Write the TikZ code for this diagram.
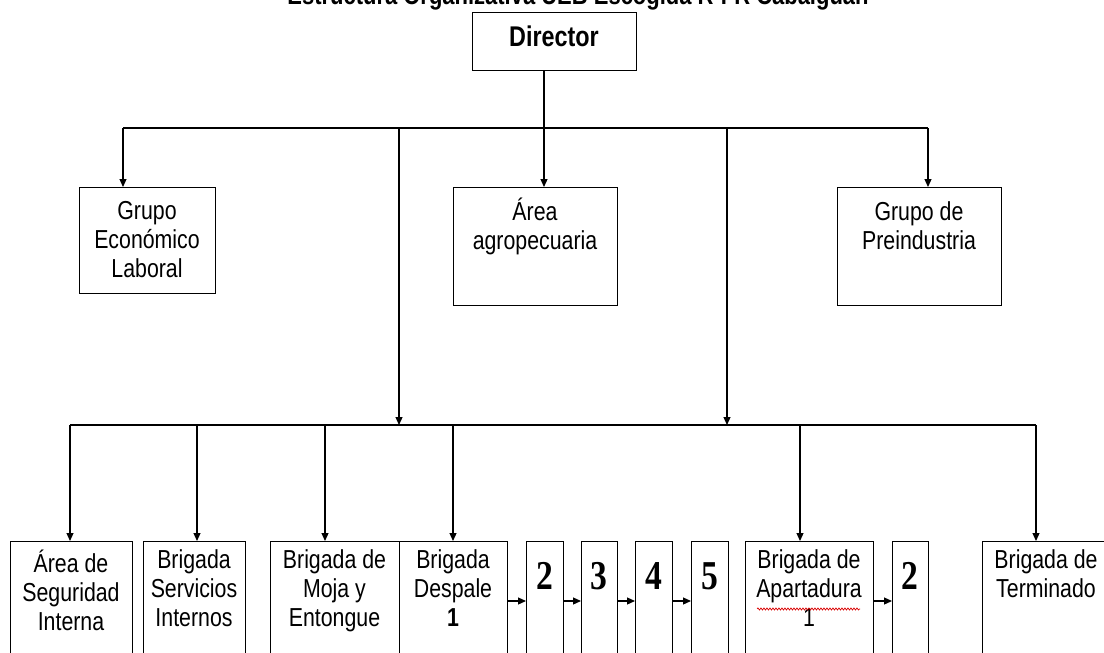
\documentclass[tikz,border=0pt]{standalone}
\usepackage{fontspec}
\setmainfont{Liberation Sans}[FakeStretch=0.82]
\newfontfamily\numfont{Liberation Serif}[FakeStretch=0.82]
\usetikzlibrary{arrows.meta,decorations.pathmorphing}

\newcommand\lblfont{\fontsize{26}{29}\selectfont}
\newcommand\dirfont{\fontsize{28.5}{32}\selectfont\bfseries}
\newcommand\titlefont{\fontsize{26.8}{30}\selectfont\bfseries}
\newcommand\numbersfont{\numfont\bfseries\fontsize{41}{44}\selectfont}

\begin{document}
\begin{tikzpicture}[x=1pt,y=-1pt,line width=1.2pt,
  box/.style={draw,rectangle,inner sep=0pt,anchor=north west},
  lbl/.style={anchor=north,inner sep=0pt,align=center,font=\lblfont,
    execute at begin node={\rule{0pt}{26pt}}},
  num/.style={anchor=base,inner sep=0pt,font=\numbersfont},
  arr/.style={-{Triangle[length=8pt,width=7pt]}}]

\useasboundingbox (0,0) rectangle (1104,653);
\clip (0,0) rectangle (1104,653);

% title
\node[anchor=base,inner sep=0pt,font=\titlefont] (title) at (578,5)
  {Estructura Organizativa UEB Escogida R-I-R Cabaiguán};

% director
\node[box,minimum width=164pt,minimum height=58pt] (dir) at (472,12) {};
\node[anchor=base,inner sep=0pt,font=\dirfont] (dirt) at (554,46) {Director};

% second level
\node[box,minimum width=136pt,minimum height=106pt] (ge) at (79,187) {};
\node[lbl] (get) at (147,201) {Grupo\\Económico\\Laboral};
\node[box,minimum width=164pt,minimum height=118pt] (aa) at (453,187) {};
\node[lbl] (aat) at (535,197) {Área\\agropecuaria};
\node[box,minimum width=164pt,minimum height=118pt] (gp) at (837,187) {};
\node[lbl] (gpt) at (919,201) {Grupo de\\Preindustria};

% brigades
\node[box,minimum width=122pt,minimum height=140pt] (asi) at (10,541) {};
\node[lbl] (asit) at (71,549) {Área de\\Seguridad\\Interna};
\node[box,minimum width=102pt,minimum height=140pt] (bsi) at (143,541) {};
\node[lbl] (bsit) at (194,549) {Brigada\\Servicios\\Internos};
\node[box,minimum width=129pt,minimum height=140pt] (bmo) at (270,541) {};
\node[lbl] (bmot) at (334.5,549) {Brigada de\\Moja y\\Entongue};
\node[box,minimum width=108pt,minimum height=140pt] (bde) at (399,541) {};
\node[lbl] (bdet) at (453,549) {Brigada\\Despale\\\textbf{1}};
\node[box,minimum width=37pt,minimum height=140pt] (n2) at (526,541) {};
\node[num] (n2t) at (544.5,589) {2};
\node[box,minimum width=36pt,minimum height=140pt] (n3) at (581,541) {};
\node[num] (n3t) at (599,589) {3};
\node[box,minimum width=37pt,minimum height=140pt] (n4) at (635,541) {};
\node[num] (n4t) at (653.5,589) {4};
\node[box,minimum width=37pt,minimum height=140pt] (n5) at (691,541) {};
\node[num] (n5t) at (709.5,589) {5};
\node[box,minimum width=128pt,minimum height=140pt] (bap) at (745,541) {};
\node[lbl] (bapt) at (809,549) {Brigada de\\Apartadura\\1};
\node[box,minimum width=36pt,minimum height=140pt] (m2) at (892,541) {};
\node[num] (m2t) at (910,589) {2};
\node[box,minimum width=128pt,minimum height=140pt] (bte) at (982,541) {};
\node[lbl] (btet) at (1046,549) {Brigada de\\Terminado};

% spell-check squiggle
\draw[red!85!black,line width=0.7pt,decorate,
  decoration={snake,amplitude=1pt,segment length=3pt}] (757,609) -- (860,609);

% upper connectors
\coordinate (tl) at (123,128);
\coordinate (tr) at (928,128);
\coordinate (trunk) at (544,128);
\coordinate (dl) at (399,128);
\coordinate (dr) at (727,128);
\draw (dir.south -| trunk) -- (trunk);
\draw (tl) -- (tr);
\draw[arr] (tl) -- (tl |- ge.north);
\draw[arr] (trunk) -- (trunk |- aa.north);
\draw[arr] (tr) -- (tr |- gp.north);

% lower bus
\coordinate (b1) at (70,425);
\coordinate (b2) at (197,425);
\coordinate (b3) at (325,425);
\coordinate (b4) at (453,425);
\coordinate (b5) at (800,425);
\coordinate (b6) at (1036,425);
\draw[arr] (dl) -- (dl |- b1);
\draw[arr] (dr) -- (dr |- b1);
\draw (b1) -- (b6);
\draw[arr] (b1) -- (b1 |- asi.north);
\draw[arr] (b2) -- (b2 |- bsi.north);
\draw[arr] (b3) -- (b3 |- bmo.north);
\draw[arr] (b4) -- (b4 |- bde.north);
\draw[arr] (b5) -- (b5 |- bap.north);
\draw[arr] (b6) -- (b6 |- bte.north);

% chains
\draw[arr] ([yshift=-60pt]bde.north east) -- ([yshift=-60pt]n2.north west);
\draw[arr] ([yshift=-60pt]n2.north east) -- ([yshift=-60pt]n3.north west);
\draw[arr] ([yshift=-60pt]n3.north east) -- ([yshift=-60pt]n4.north west);
\draw[arr] ([yshift=-60pt]n4.north east) -- ([yshift=-60pt]n5.north west);
\draw[arr] ([yshift=-60pt]bap.north east) -- ([yshift=-60pt]m2.north west);
\end{tikzpicture}
\end{document}
